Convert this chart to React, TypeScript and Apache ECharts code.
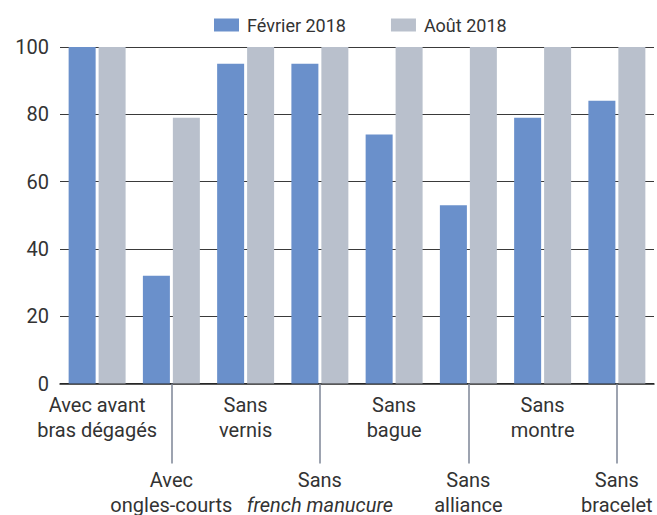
import React, { useEffect, useRef } from "react";
import * as echarts from "echarts";

const categories = [
  "Avec avant\nbras dégagés",
  "Avec\nongles-courts",
  "Sans\nvernis",
  "Sans\nfrench manucure",
  "Sans\nbague",
  "Sans\nalliance",
  "Sans\nmontre",
  "Sans\nbracelet",
];
const italicLines = ["french manucure"];
const fevrier2018 = [100, 32, 95, 95, 74, 53, 79, 84];
const aout2018 = [100, 79, 100, 100, 100, 100, 100, 100];
const seriesNames = ["Février 2018", "Août 2018"];
const yTicks = { min: 0, max: 100, interval: 20 };

const FONT = "Roboto, 'Liberation Sans', sans-serif";
const TEXT = "#333333";

export default function App() {
  const ref = useRef<HTMLDivElement>(null);
  useEffect(() => {
    if (!ref.current) return;
    const chart = echarts.init(ref.current, null, { renderer: "svg" });
    chart.setOption({
      animation: false,
      textStyle: { fontFamily: FONT, color: TEXT },
      legend: {
        left: 214,
        top: 16,
        padding: 0,
        itemWidth: 25,
        itemHeight: 13,
        itemGap: 45,
        icon: "rect",
        textStyle: { fontSize: 18, color: TEXT, fontFamily: FONT, padding: [0, 0, 0, 3] },
        data: seriesNames,
      },
      grid: { left: 60, right: 3, top: 47, bottom: 128, containLabel: false },
      xAxis: {
        type: "category",
        data: categories,
        axisLine: { show: true, lineStyle: { color: "#222", width: 1.5 } },
        axisTick: {
          show: true,
          alignWithLabel: true,
          interval: (i: number) => i % 2 === 1,
          length: 80,
          lineStyle: { color: "#7c8596", width: 1.5 },
        },
        axisLabel: {
          interval: 0,
          margin: 9,
          formatter: (v: string, i: number) => {
            const lines = v.split("\n").map((l) =>
              italicLines.includes(l) ? `{i|${l}}` : `{a|${l}}`
            );
            const pre = i % 2 === 1 ? "{sp| }\n{sp| }\n{sp| }\n" : "";
            return pre + lines.join("\n");
          },
          rich: {
            a: { fontSize: 20, lineHeight: 25, color: TEXT, fontFamily: FONT },
            i: { fontSize: 20, lineHeight: 25, color: TEXT, fontFamily: FONT, fontStyle: "italic" },
            sp: { fontSize: 20, lineHeight: 25 },
          },
        },
      },
      yAxis: {
        type: "value",
        min: yTicks.min,
        max: yTicks.max,
        interval: yTicks.interval,
        axisLine: { show: false },
        axisTick: { show: false },
        axisLabel: { fontSize: 20, color: TEXT, margin: 11, fontFamily: FONT },
        splitLine: { lineStyle: { color: "#3a3a3a", width: 1 } },
      },
      series: [
        {
          name: seriesNames[0],
          type: "bar",
          data: fevrier2018,
          barWidth: 27,
          barGap: "11%",
          itemStyle: { color: "#6a90cb" },
        },
        {
          name: seriesNames[1],
          type: "bar",
          data: aout2018,
          barWidth: 27,
          barGap: "11%",
          itemStyle: { color: "#b9c0cc" },
        },
      ],
    });
    return () => chart.dispose();
  }, []);
  return <div ref={ref} style={{ width: 657, height: 515, position: "absolute", left: 0, top: 0 }} />;
}
